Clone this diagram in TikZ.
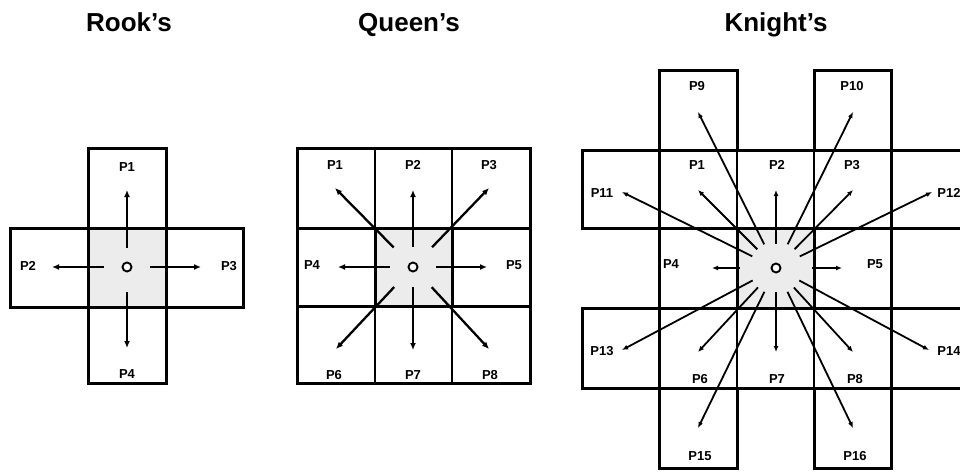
\documentclass[tikz,border=0pt]{standalone}
\usepackage{fontspec}
\setmainfont{Liberation Sans}
\usetikzlibrary{arrows.meta}
\definecolor{hubfill}{RGB}{236,236,236}
\begin{document}
\begin{tikzpicture}[x=1pt,y=-1pt,
  edge/.style={line width=3pt, line join=miter},
  fineline/.style={line width=1.2pt},
  hub/.style={circle, draw, fill=white, line width=1.9pt, minimum size=9pt, inner sep=0pt},
  lbl/.style={font=\bfseries\fontsize{13}{15}\selectfont, inner sep=0pt},
  title/.style={font=\bfseries\fontsize{26}{30}\selectfont, anchor=base, inner sep=0pt},
  ray/.style={line width=2.3pt, -{Latex[length=7pt,width=6pt]}},
  kray/.style={line width=1.8pt, -{Latex[length=6pt,width=5pt]}}]
\useasboundingbox (0,0) rectangle (960,472);
\clip (0,0) rectangle (960,472);

% titles
\node[title] (trook)   at (129,31) {Rook’s};
\node[title] (tqueen)  at (409,31) {Queen’s};
\node[title] (tknight) at (776,31) {Knight’s};

% ---------------- Rook's cross ----------------
\fill[hubfill] (88,228) rectangle (166,307);
\draw[edge] (88,148) rectangle (166,383);
\draw[edge] (10,228) rectangle (243,307);
\node[hub] (rc) at (127,267) {};
\coordinate (r1) at (127,190);
\coordinate (r2) at (52,267);
\coordinate (r3) at (201,267);
\coordinate (r4) at (127,348);
\draw[ray, shorten <=14pt] (rc) -- (r1);
\draw[ray, shorten <=18pt] (rc) -- (r2);
\draw[ray, shorten <=18pt] (rc) -- (r3);
\draw[ray, shorten <=20pt] (rc) -- (r4);
\node[lbl] (rl1) at (127,167) {P1};
\node[lbl] (rl2) at (28,266) {P2};
\node[lbl] (rl3) at (229,266) {P3};
\node[lbl] (rl4) at (127,374) {P4};

% ---------------- Queen's square ----------------
\fill[hubfill] (375,228) rectangle (452,306);
\draw[fineline] (375,148) -- (375,383) (452,148) -- (452,383);
\draw[edge] (297,228) rectangle (530,306);
\draw[edge] (375,228) rectangle (452,306);
\draw[edge] (297,148) rectangle (530,383);
\node[hub] (qc) at (413,267) {};
\coordinate (q1) at (335,188);
\coordinate (q2) at (413,190);
\coordinate (q3) at (489,188);
\coordinate (q4) at (338,267);
\coordinate (q5) at (487,267);
\coordinate (q6) at (336,349);
\coordinate (q7) at (413,350);
\coordinate (q8) at (489,349);
\foreach \t in {q1,q3,q6,q8} \draw[ray, shorten <=22pt] (qc) -- (\t);
\foreach \t in {q2,q7} \draw[ray, shorten <=15pt] (qc) -- (\t);
\foreach \t in {q4,q5} \draw[ray, shorten <=18pt] (qc) -- (\t);
\node[lbl] (ql1) at (335,165) {P1};
\node[lbl] (ql2) at (413,165) {P2};
\node[lbl] (ql3) at (489,165) {P3};
\node[lbl] (ql4) at (312,265) {P4};
\node[lbl] (ql5) at (514,265) {P5};
\node[lbl] (ql6) at (334,375) {P6};
\node[lbl] (ql7) at (413,375) {P7};
\node[lbl] (ql8) at (490,375) {P8};

% ---------------- Knight's field ----------------
\fill[hubfill] (737,228) rectangle (814,308);
\draw[fineline] (737,150) -- (737,388) (814,150) -- (814,388);
\draw[edge] (582,150) rectangle (968,228);
\draw[edge] (582,308) rectangle (968,388);
\draw[edge] (659,150) rectangle (891,388);
\draw[edge] (737,228) rectangle (814,308);
\draw[edge] (659,70) rectangle (737,150);
\draw[edge] (814,70) rectangle (891,150);
\draw[edge] (659,388) rectangle (737,468);
\draw[edge] (814,388) rectangle (891,468);
\node[hub] (kc) at (776,268) {};
\coordinate (k9)  at (698,112);
\coordinate (k10) at (853,112);
\coordinate (k1)  at (698,190);
\coordinate (k2)  at (776,190);
\coordinate (k3)  at (853,190);
\coordinate (k11) at (622,192);
\coordinate (k12) at (932,192);
\coordinate (k4)  at (712,268);
\coordinate (k5)  at (842,268);
\coordinate (k13) at (622,350);
\coordinate (k14) at (929,350);
\coordinate (k6)  at (698,352);
\coordinate (k7)  at (776,352);
\coordinate (k8)  at (853,352);
\coordinate (k15) at (698,428);
\coordinate (k16) at (853,428);
\foreach \t in {k9,k10,k1,k3,k11,k12,k13,k14,k6,k8,k15,k16}
  \draw[kray, shorten <=21pt] (kc) -- (\t);
\foreach \t in {k2,k7} \draw[kray, shorten <=19pt] (kc) -- (\t);
\foreach \t in {k4,k5} \draw[kray, shorten <=31pt] (kc) -- (\t);
\node[lbl] (kl9)  at (697,86)  {P9};
\node[lbl] (kl10) at (852,86)  {P10};
\node[lbl] (kl1)  at (697,165) {P1};
\node[lbl] (kl2)  at (777,165) {P2};
\node[lbl] (kl3)  at (852,165) {P3};
\node[lbl] (kl11) at (602,193) {P11};
\node[lbl] (kl12) at (949,193) {P12};
\node[lbl] (kl4)  at (671,264) {P4};
\node[lbl] (kl5)  at (875,264) {P5};
\node[lbl] (kl13) at (602,351) {P13};
\node[lbl] (kl14) at (949,351) {P14};
\node[lbl] (kl6)  at (700,379) {P6};
\node[lbl] (kl7)  at (777,379) {P7};
\node[lbl] (kl8)  at (855,379) {P8};
\node[lbl] (kl15) at (700,456) {P15};
\node[lbl] (kl16) at (855,456) {P16};
\end{tikzpicture}
\end{document}
